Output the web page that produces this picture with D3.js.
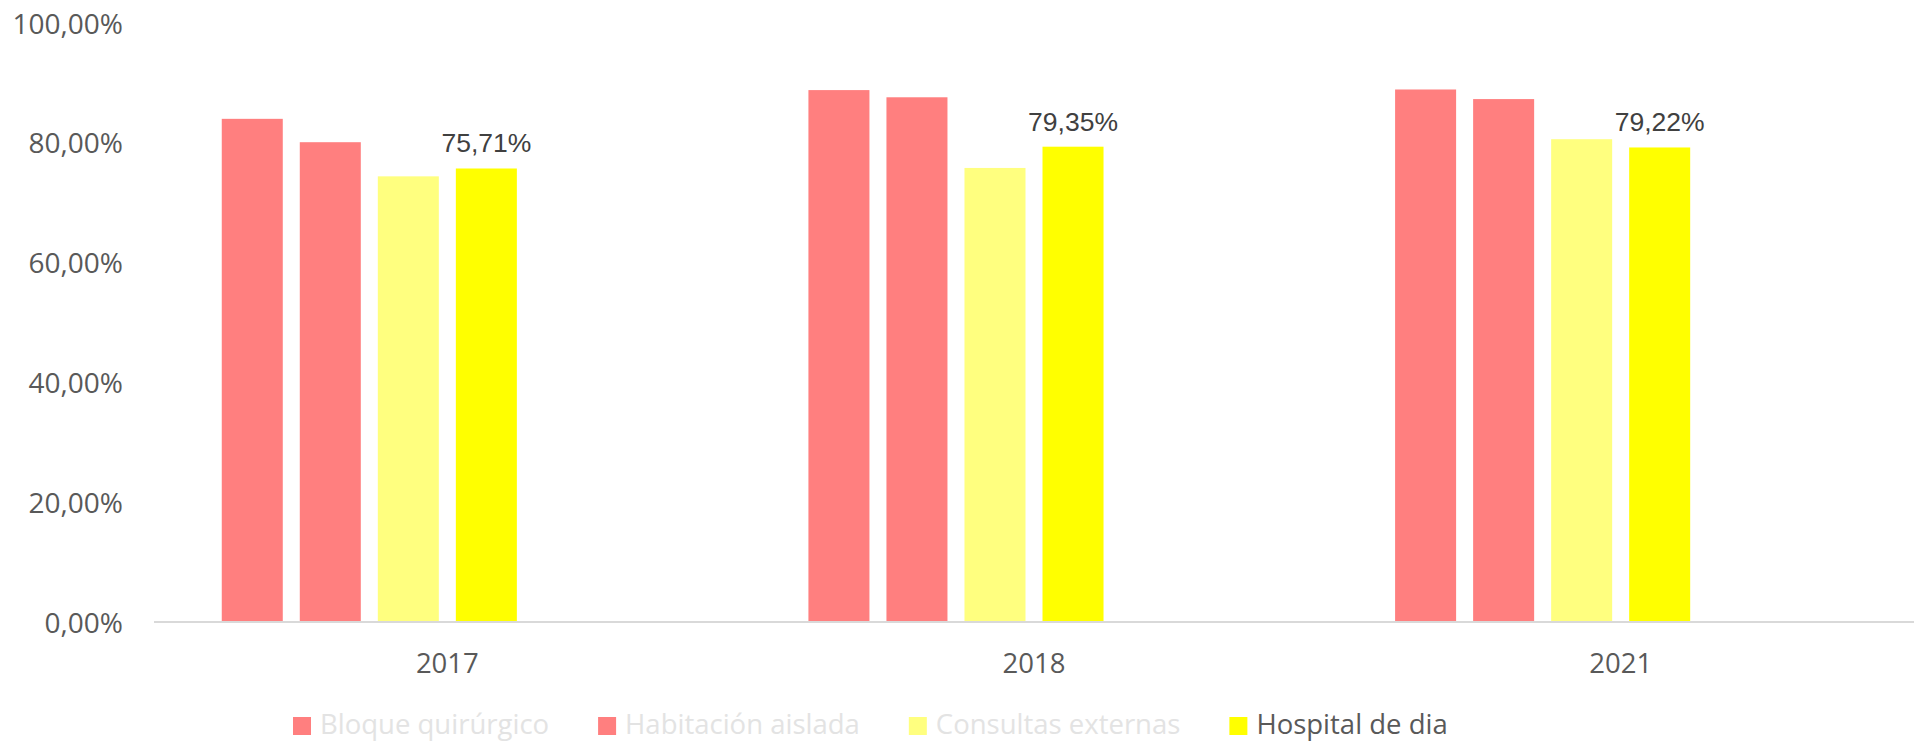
<!DOCTYPE html>
<html>
<head>
<meta charset="utf-8">
<script src="https://cdn.jsdelivr.net/npm/d3@7"></script>
<style>
  html, body { margin: 0; padding: 0; background: #ffffff; }
  svg { display: block; }
</style>
</head>
<body>
<svg id="chart" width="1919" height="743"></svg>
<script>
// ---- Data ----
const years = ["2017", "2018", "2021"];
const seriesNames = ["Bloque quirúrgico", "Habitación aislada", "Consultas externas", "Hospital de dia"];
const bloqueQuirurgico = [0.840, 0.888, 0.889];
const habitacionAislada = [0.801, 0.876, 0.873];
const consultasExternas = [0.744, 0.758, 0.806];
const hospitalDeDia = [0.7571, 0.7935, 0.7922];
const yTicks = [0, 0.2, 0.4, 0.6, 0.8, 1.0];

const seriesValues = [bloqueQuirurgico, habitacionAislada, consultasExternas, hospitalDeDia];
const seriesColors = ["#ff7f7f", "#ff7f7f", "#ffff7f", "#ffff00"];
const legendTextColors = ["#e3e3e3", "#e3e3e3", "#e3e3e3", "#595959"];
const labeledSeries = [false, false, false, true];
const slotCount = 6; // chart reserves six slots per category, four are used

// ---- Layout ----
const svg = d3.select("#chart");
const plotLeft = 154, plotRight = 1914, plotTop = 23, plotBottom = 622;

const locale = d3.formatLocale({ decimal: ",", thousands: ".", grouping: [3], currency: ["", "€"] });
const pct = locale.format(".2%");

const x0 = d3.scaleBand()
  .domain(years)
  .range([plotLeft, plotRight])
  .paddingInner(0.231)
  .paddingOuter(0.1155);

const x1 = d3.scaleBand()
  .domain(d3.range(slotCount))
  .range([0, x0.bandwidth()])
  .paddingInner(0.218);

const y = d3.scaleLinear().domain([0, 1]).range([plotBottom, plotTop]);

// ---- Y axis labels ----
const yAxis = d3.axisLeft(y).tickValues(yTicks).tickFormat(pct).tickSize(0).tickPadding(31);
const yg = svg.append("g").attr("transform", `translate(${plotLeft},0)`).call(yAxis);
yg.select(".domain").remove();
yg.selectAll("text")
  .attr("font-family", "'Open Sans', sans-serif")
  .attr("font-size", "28px")
  .attr("fill", "#595959")
  .attr("dy", "0.36em");

// ---- Bars ----
const groups = svg.append("g").selectAll("g")
  .data(years)
  .join("g")
  .attr("transform", d => `translate(${x0(d)},0)`);

seriesNames.forEach((name, si) => {
  groups.append("rect")
    .attr("x", x1(si))
    .attr("width", x1.bandwidth())
    .attr("y", (d, i) => y(seriesValues[si][i]))
    .attr("height", (d, i) => y(0) - y(seriesValues[si][i]))
    .attr("fill", seriesColors[si]);
  if (labeledSeries[si]) {
    groups.append("text")
      .attr("x", x1(si) + x1.bandwidth() / 2)
      .attr("y", (d, i) => y(seriesValues[si][i]) - 16)
      .attr("text-anchor", "middle")
      .attr("font-family", "'Liberation Sans', Arial, sans-serif")
      .attr("font-size", "26.5px")
      .attr("fill", "#404040")
      .text((d, i) => pct(seriesValues[si][i]));
  }
});

// ---- X axis ----
const xAxis = d3.axisBottom(x0).tickSize(0).tickPadding(0);
const xg = svg.append("g").attr("transform", `translate(0,${plotBottom})`).call(xAxis);
xg.select(".domain").remove();
xg.selectAll("text")
  .attr("font-family", "'Open Sans', sans-serif")
  .attr("font-size", "27.5px")
  .attr("fill", "#595959")
  .attr("dy", null)
  .attr("y", 50.7);
svg.append("line")
  .attr("x1", plotLeft).attr("x2", plotRight)
  .attr("y1", plotBottom).attr("y2", plotBottom)
  .attr("stroke", "#d9d9d9").attr("stroke-width", 2);

// ---- Legend ----
const legend = svg.append("g");
let lx = 293;
const legendSquare = 18, legendTextGap = 9, legendItemGap = 49, legendBaseline = 734;
seriesNames.forEach((name, si) => {
  legend.append("rect")
    .attr("x", lx).attr("y", 717)
    .attr("width", legendSquare).attr("height", legendSquare)
    .attr("fill", seriesColors[si]);
  const t = legend.append("text")
    .attr("x", lx + legendSquare + legendTextGap)
    .attr("y", legendBaseline)
    .attr("font-family", "'Open Sans', sans-serif")
    .attr("font-size", "27.5px")
    .attr("fill", legendTextColors[si])
    .text(name);
  lx += legendSquare + legendTextGap + t.node().getComputedTextLength() + legendItemGap;
});
</script>
</body>
</html>
